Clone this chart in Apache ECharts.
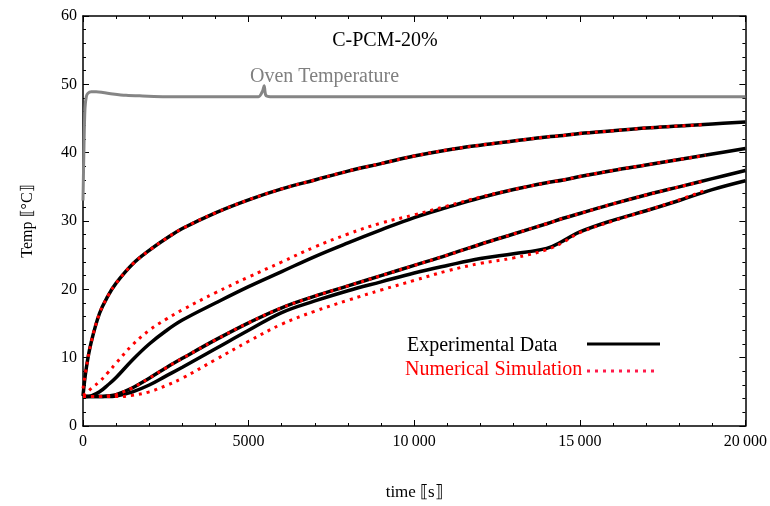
<!DOCTYPE html>
<html>
<head>
<meta charset="utf-8">
<script src="https://cdn.jsdelivr.net/npm/echarts@6/dist/echarts.min.js"></script>
<style>
  html, body { margin: 0; padding: 0; background: #fff; }
  #chart { width: 770px; height: 506px; }
</style>
</head>
<body>
<div id="chart"></div>
<script>
// time axis [s] for experimental curves
var timeExp = [0, 100, 250, 500, 750, 1000, 1500, 2000, 2500, 3000, 4000, 5000, 6000, 7000, 8000, 9000, 10000, 11000, 12000, 13000, 14000, 14500, 15000, 16000, 17000, 18000, 19000, 20000]
// simulation stops a bit before the end
var timeSim = [0, 100, 250, 500, 750, 1000, 1500, 2000, 2500, 3000, 4000, 5000, 6000, 7000, 8000, 9000, 10000, 11000, 12000, 13000, 14000, 14500, 15000, 16000, 17000, 18000, 18800]

// experimental data [°C]
var exp1 = [4.4, 8.5, 12.3, 16.5, 19.0, 20.9, 23.7, 25.7, 27.4, 28.9, 31.2, 33.1, 34.7, 36.0, 37.3, 38.4, 39.5, 40.4, 41.1, 41.7, 42.3, 42.5, 42.8, 43.2, 43.6, 43.9, 44.2, 44.5]
var exp2 = [4.3, 4.3, 4.4, 5.0, 6.0, 7.1, 9.7, 12.0, 13.9, 15.5, 18.0, 20.4, 22.6, 24.8, 26.8, 28.7, 30.5, 32.0, 33.4, 34.6, 35.6, 36.0, 36.5, 37.4, 38.2, 39.0, 39.8, 40.6]
var exp3 = [4.3, 4.3, 4.3, 4.3, 4.4, 4.6, 5.6, 7.0, 8.5, 9.9, 12.6, 15.1, 17.3, 19.0, 20.5, 22.0, 23.5, 25.0, 26.6, 28.1, 29.6, 30.4, 31.1, 32.5, 33.8, 35.0, 36.2, 37.4]
var exp4 = [4.3, 4.3, 4.3, 4.3, 4.3, 4.4, 5.0, 6.0, 7.3, 8.6, 11.3, 14.0, 16.6, 18.3, 19.8, 21.1, 22.4, 23.5, 24.5, 25.2, 26.0, 27.1, 28.4, 30.1, 31.5, 33.0, 34.6, 35.9]

// numerical simulation [°C]
var sim1 = [5.5, 8.5, 12.3, 16.5, 19.0, 20.9, 23.7, 25.7, 27.4, 28.9, 31.2, 33.1, 34.7, 36.0, 37.3, 38.4, 39.5, 40.4, 41.1, 41.7, 42.3, 42.5, 42.8, 43.2, 43.6, 43.9, 44.1]
var sim2 = [4.5, 4.8, 5.5, 6.5, 7.8, 9.2, 11.9, 14.0, 15.6, 17.0, 19.5, 21.8, 24.0, 26.2, 28.1, 29.7, 30.9, 32.2, 33.5, 34.6, 35.6, 36.0, 36.5, 37.4, 38.2, 39.0, 39.6]
var sim3 = [4.3, 4.3, 4.3, 4.3, 4.4, 4.6, 5.6, 7.0, 8.5, 9.9, 12.6, 15.1, 17.3, 19.0, 20.5, 22.0, 23.5, 25.0, 26.6, 28.1, 29.6, 30.4, 31.1, 32.5, 33.8, 35.0, 35.9]
var sim4 = [4.3, 4.3, 4.3, 4.3, 4.3, 4.3, 4.5, 5.0, 5.9, 7.0, 9.7, 12.4, 14.9, 16.8, 18.4, 19.9, 21.3, 22.7, 23.8, 24.6, 25.8, 26.9, 28.3, 30.0, 31.5, 33.1, 34.5]

// oven temperature
var timeOven = [0, 30, 60, 100, 150, 250, 400, 600, 900, 1300, 1800, 2500, 3500, 4500, 5300, 5420, 5470, 5520, 5650, 6500, 8000, 10000, 12000, 14000, 16000, 18000, 20000]
var oven = [33.0, 41.0, 46.5, 48.2, 48.7, 48.9, 48.9, 48.8, 48.6, 48.4, 48.3, 48.2, 48.2, 48.2, 48.2, 49.0, 49.8, 48.4, 48.2, 48.2, 48.2, 48.2, 48.2, 48.2, 48.2, 48.2, 48.2]

var xTicks = [0, 5000, 10000, 15000, 20000]

var serif = 'Liberation Serif'

function pairs(t, v) {
  var out = []
  for (var i = 0; i < v.length; i++) out.push([t[i], v[i]])
  return out
}

function fmtX(v) {
  if (v >= 10000) return String(v).slice(0, -3) + '\u2009' + '000'
  return String(v)
}

var myChart = echarts.init(document.getElementById('chart'))

var series = []
series.push({
  name: 'Oven', type: 'line', data: pairs(timeOven, oven), showSymbol: false, smooth: 0.3,
  lineStyle: { color: '#858585', width: 3 }, z: 2
})
var exps = [exp1, exp2, exp3, exp4]
for (var i = 0; i < exps.length; i++) {
  series.push({
    name: 'Experimental Data', type: 'line', data: pairs(timeExp, exps[i]), showSymbol: false, smooth: 0.4,
    lineStyle: { color: '#000', width: 3.5 }, z: 3
  })
}
var sims = [sim1, sim2, sim3, sim4]
for (var j = 0; j < sims.length; j++) {
  series.push({
    name: 'Numerical Simulation', type: 'line', data: pairs(timeSim, sims[j]), showSymbol: false, smooth: 0.4,
    lineStyle: { color: '#ff0000', width: 3, type: [3, 5], cap: 'butt' }, z: 4
  })
}

var tickCommon = {
  axisLine: { show: true, onZero: false, lineStyle: { color: '#000', width: 1.5 } },
  axisTick: { show: true, inside: true, length: 6, lineStyle: { color: '#000', width: 1 } },
  minorTick: { show: true, splitNumber: 5, length: 3, lineStyle: { color: '#000', width: 1 } },
  splitLine: { show: false }
}

var option = {
  backgroundColor: '#fff',
  animation: false,
  grid: { left: 83, right: 22, top: 16, bottom: 77 },
  xAxis: [
    Object.assign({
      type: 'value', min: 0, max: 20000, interval: 5000, position: 'bottom',
      name: 'time \u27e6s\u27e7', nameLocation: 'middle', nameGap: 58,
      nameTextStyle: { fontFamily: serif, fontSize: 17, color: '#000' },
      axisLabel: {
        fontFamily: serif, fontSize: 16, color: '#000', margin: 8,
        formatter: function (v) { return xTicks.indexOf(v) >= 0 ? fmtX(v) : '' }
      }
    }, tickCommon),
    Object.assign({
      type: 'value', min: 0, max: 20000, interval: 5000, position: 'top',
      axisLabel: { show: false }
    }, tickCommon)
  ],
  yAxis: [
    Object.assign({
      type: 'value', min: 0, max: 60, interval: 10, position: 'left',
      name: 'Temp \u27e6\u00b0C\u27e7', nameLocation: 'middle', nameGap: 47, nameRotate: 90,
      nameTextStyle: { fontFamily: serif, fontSize: 16, color: '#000' },
      axisLabel: { fontFamily: serif, fontSize: 16, color: '#000', margin: 6 }
    }, tickCommon),
    Object.assign({
      type: 'value', min: 0, max: 60, interval: 10, position: 'right',
      axisLabel: { show: false }
    }, tickCommon)
  ],
  graphic: [
    { type: 'text', left: 'center', top: 31, style: { text: 'C-PCM-20%', fontFamily: serif, fontSize: 20, fill: '#000' } },
    { type: 'text', left: 250, top: 67, style: { text: 'Oven Temperature', fontFamily: serif, fontSize: 20, fill: '#808080' } },
    { type: 'text', left: 407, top: 336, style: { text: 'Experimental Data', fontFamily: serif, fontSize: 20, fill: '#000' } },
    { type: 'text', left: 405, top: 360, style: { text: 'Numerical Simulation', fontFamily: serif, fontSize: 20, fill: '#ff0000' } },
    { type: 'line', shape: { x1: 587, y1: 344, x2: 660, y2: 344 }, style: { stroke: '#000', lineWidth: 3 } },
    { type: 'line', shape: { x1: 587, y1: 371, x2: 658, y2: 371 }, style: { stroke: '#ff1a4a', lineWidth: 3, lineDash: [3, 5] } }
  ],
  series: series
}

myChart.setOption(option)
</script>
</body>
</html>
